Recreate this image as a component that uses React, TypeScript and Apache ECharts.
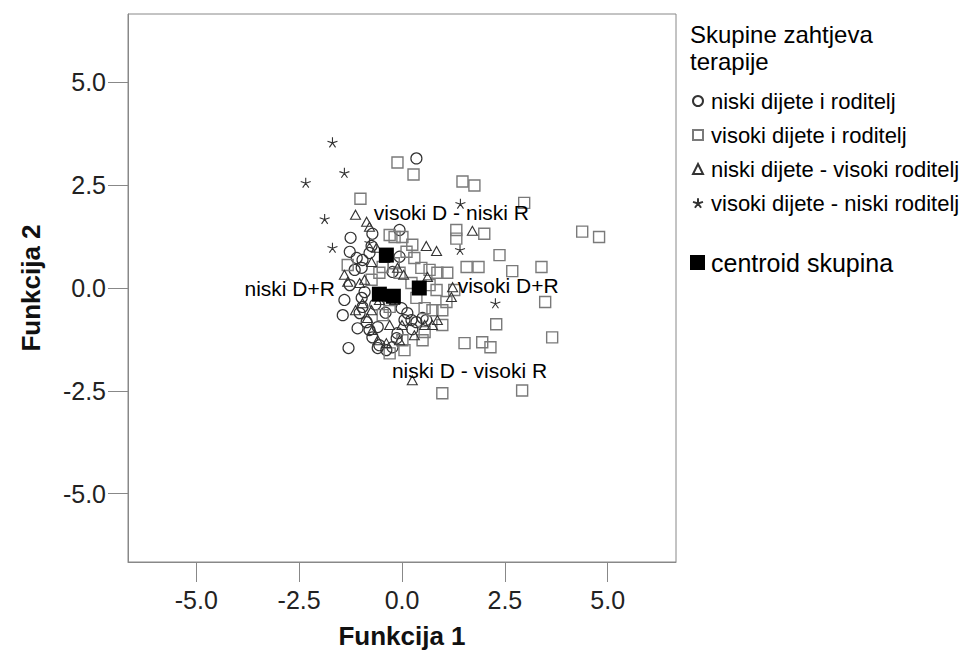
import React, { useEffect, useRef } from "react";
import * as echarts from "echarts";

// ---- data ----
const xTicks = [-5, -2.5, 0, 2.5, 5];
const yTicks = [-5, -2.5, 0, 2.5, 5];

const seriesNames = [
  "niski dijete i roditelj",
  "visoki dijete i roditelj",
  "niski dijete - visoki roditelj",
  "visoki dijete - niski roditelj",
];
const centroidName = "centroid skupina";

// circles: niski dijete i roditelj
const niskiDR: number[][] = [
  [0.35, 3.15], [-1.25, 1.22], [-1.27, 0.88], [-1.1, 0.73], [-1.15, 0.44], [-0.98, 0.49],
  [-0.79, 0.85], [-0.74, 1.02], [-0.06, 1.41], [-0.06, 0.76], [-0.96, 0.68], [-0.91, -0.1],
  [-0.98, -0.24], [-0.96, -0.46], [-1.03, -0.61], [-0.86, -0.83], [-0.79, -1.02], [-0.72, -1.2],
  [-0.55, -1.39], [-0.59, -1.46], [-0.38, -1.51], [-0.13, -1.22], [-0.11, -1.1], [-0.01, -0.49],
  [0.13, -0.61], [0.23, -0.78], [0.35, -0.83], [0.5, -0.73], [0.06, -0.78], [0.59, -0.78],
  [-0.59, -0.95], [-0.23, -1.44], [-1.08, -0.98], [-1.4, -0.29], [-1.44, -0.66], [-1.27, 0.07],
  [-1.3, -1.46], [-0.23, 0.39], [-0.72, 1.32], [-0.4, -0.6], [-0.65, -0.4], [0.25, -1.0],
];

// squares: visoki dijete i roditelj
const visokiDR: number[][] = [
  [-0.11, 3.05], [0.28, 2.76], [-1.01, 2.17], [1.47, 2.59], [1.76, 2.49], [2.97, 2.07],
  [1.32, 1.41], [1.32, 1.2], [2.0, 1.32], [2.37, 0.8], [1.57, 0.51], [1.86, 0.51],
  [2.68, 0.41], [3.39, 0.51], [3.48, -0.34], [2.29, -0.88], [1.52, -1.34], [1.95, -1.32],
  [2.15, -1.44], [3.65, -1.2], [0.98, -2.56], [2.92, -2.49], [4.38, 1.37], [4.79, 1.24],
  [0.25, 1.05], [0.3, 0.73], [0.47, 0.49], [0.67, 0.44], [0.86, 0.37], [1.1, 0.37],
  [-1.32, 0.56], [-0.06, 0.37], [0.35, -0.24], [0.74, -0.54], [0.98, -0.54], [1.08, -0.34],
  [0.55, -0.49], [0.01, -1.27], [0.06, -1.51], [-0.3, -1.59], [0.5, -1.27], [0.98, -0.9],
  [-0.47, -0.66], [-0.3, -0.46], [-0.3, -0.29], [-0.55, 0.37], [-0.47, 0.51], [-0.3, 1.29],
  [-0.18, 1.24], [0.01, 1.24], [1.27, -0.05], [-0.74, 0.2], [0.23, 0.12], [0.67, 0.07],
  [0.84, -0.05], [0.11, 0.88], [0.55, -1.07], [-0.2, 0.6],
];

// triangles: niski dijete - visoki roditelj
const niskiDvisokiR: number[][] = [
  [-1.13, 1.78], [-0.86, 1.61], [-0.79, 1.49], [0.59, 1.02], [0.84, 0.9], [1.71, 1.39],
  [0.62, 0.27], [1.23, 0.02], [1.2, -0.22], [0.74, -0.9], [0.55, -0.9], [-0.11, 0.49],
  [-1.32, 0.15], [-1.03, 0.12], [-0.72, -1.02], [-0.59, -1.27], [-0.38, -1.34], [-0.06, -1.27],
  [0.86, -0.78], [0.25, -2.24], [-0.74, -0.54], [-0.84, -0.73], [-0.55, -0.29], [-0.91, 0.2],
  [-0.42, 0.73], [-0.74, 0.63], [0.04, 0.32], [-0.3, -0.9], [-1.13, -0.54], [-0.18, -0.29],
  [-0.62, 0.98], [-1.4, 0.32], [-0.96, -0.37], [0.0, -0.9], [0.3, -1.15],
];

// stars: visoki dijete - niski roditelj
const visokiDniskiR: number[][] = [
  [-1.69, 3.54], [-2.34, 2.56], [-1.4, 2.8], [-1.88, 1.68], [-1.69, 0.98],
  [1.42, 2.05], [1.41, 0.93], [2.27, -0.37], [-0.79, 1.1],
];

// group centroids
const centroids: number[][] = [
  [-0.38, 0.8], [-0.55, -0.15], [-0.21, -0.2], [0.42, 0.0],
];

// group labels (text and where its centre sits, in data units)
const groupLabelNames = ["visoki D - niski R", "niski D+R", "visoki D+R", "niski D - visoki R"];
const groupLabelPos: number[][] = [
  [1.2, 1.83], [-2.73, -0.02], [2.58, 0.05], [1.64, -2.0],
];

const STAR = "path://M5,5L5,0M5,5L9.76,3.45M5,5L7.94,9.05M5,5L2.06,9.05M5,5L0.24,3.45";
const FONT = "Liberation Sans, Arial, sans-serif";

export default function App() {
  const ref = useRef<HTMLDivElement>(null);
  useEffect(() => {
    if (!ref.current) return;
    const chart = echarts.init(ref.current, null, { renderer: "svg" });
    const open = (c: string, w = 1.2) => ({
      color: "rgba(0,0,0,0)", borderColor: c, borderWidth: w, opacity: 1,
    });
    const option: any = {
      animation: false,
      backgroundColor: "#fff",
      textStyle: { fontFamily: FONT },
      title: {
        text: "Skupine zahtjeva\nterapije",
        left: 690,
        top: 21,
        padding: 0,
        textStyle: { fontSize: 24, fontWeight: "normal", color: "#000", lineHeight: 27, fontFamily: FONT },
      },
      legend: [
        {
          data: seriesNames,
          orient: "vertical",
          left: 692,
          top: 90,
          padding: 0,
          itemWidth: 10,
          itemHeight: 10,
          itemGap: 12,
          textStyle: { fontSize: 22, color: "#000", fontFamily: FONT, padding: [0, 0, 0, 3] },
          selectedMode: false,
        },
        {
          data: [centroidName],
          orient: "vertical",
          left: 690,
          top: 250,
          padding: 0,
          itemWidth: 15,
          itemHeight: 15,
          textStyle: { fontSize: 25, color: "#000", fontFamily: FONT, padding: [0, 0, 0, 1] },
          selectedMode: false,
        },
      ],
      grid: {
        left: 128,
        right: 287,
        top: 14,
        bottom: 97,
        show: true,
        borderColor: "#888",
        borderWidth: 1,
        backgroundColor: "#fff",
      },
      xAxis: {
        type: "value",
        min: -6.66,
        max: 6.66,
        name: "Funkcija 1",
        nameLocation: "middle",
        nameGap: 61,
        nameTextStyle: { fontSize: 26, fontWeight: "bold", color: "#111", fontFamily: FONT },
        splitLine: { show: false },
        axisLine: { show: true, onZero: false, lineStyle: { color: "#888" } },
        axisTick: { show: true, customValues: xTicks, length: 20, lineStyle: { color: "#888" } },
        axisLabel: {
          customValues: xTicks,
          formatter: (v: number) => v.toFixed(1),
          fontSize: 25,
          color: "#222",
          margin: 25,
          fontFamily: FONT,
        },
      },
      yAxis: {
        type: "value",
        min: -6.66,
        max: 6.66,
        name: "Funkcija 2",
        nameLocation: "middle",
        nameGap: 84,
        nameRotate: 90,
        nameTextStyle: { fontSize: 26, fontWeight: "bold", color: "#111", fontFamily: FONT },
        splitLine: { show: false },
        axisLine: { show: true, onZero: false, lineStyle: { color: "#888" } },
        axisTick: { show: true, customValues: yTicks, length: 20, lineStyle: { color: "#888" } },
        axisLabel: {
          customValues: yTicks,
          formatter: (v: number) => v.toFixed(1),
          fontSize: 25,
          color: "#222",
          margin: 22,
          fontFamily: FONT,
        },
      },
      series: [
        {
          name: seriesNames[0], type: "scatter", symbol: "circle", symbolSize: 11,
          data: niskiDR, itemStyle: open("#333", 1.2),
        },
        {
          name: seriesNames[1], type: "scatter", symbol: "rect", symbolSize: 11,
          data: visokiDR, itemStyle: open("#7a7a7a", 1.4),
        },
        {
          name: seriesNames[2], type: "scatter", symbol: "triangle", symbolSize: [10, 9],
          data: niskiDvisokiR, itemStyle: open("#333", 1.1),
        },
        {
          name: seriesNames[3], type: "scatter", symbol: STAR, symbolSize: 10,
          data: visokiDniskiR, itemStyle: open("#333", 1.1),
        },
        {
          name: centroidName, type: "scatter", symbol: "rect", symbolSize: 15, z: 5,
          data: centroids, itemStyle: { color: "#000", opacity: 1 },
        },
        {
          name: "labels", type: "scatter", symbolSize: 1, z: 6, silent: true,
          itemStyle: { color: "rgba(0,0,0,0)", opacity: 1 },
          data: groupLabelNames.map((n, i) => ({ name: n, value: groupLabelPos[i] })),
          label: {
            show: true, position: "inside", formatter: "{b}",
            fontSize: 21, color: "#000", fontFamily: FONT, opacity: 1,
            textBorderWidth: 0, textShadowBlur: 0,
          },
        },
      ],
    };
    chart.setOption(option);
    return () => chart.dispose();
  }, []);
  return <div ref={ref} style={{ width: 963, height: 659, position: "absolute", left: 0, top: 0 }} />;
}
